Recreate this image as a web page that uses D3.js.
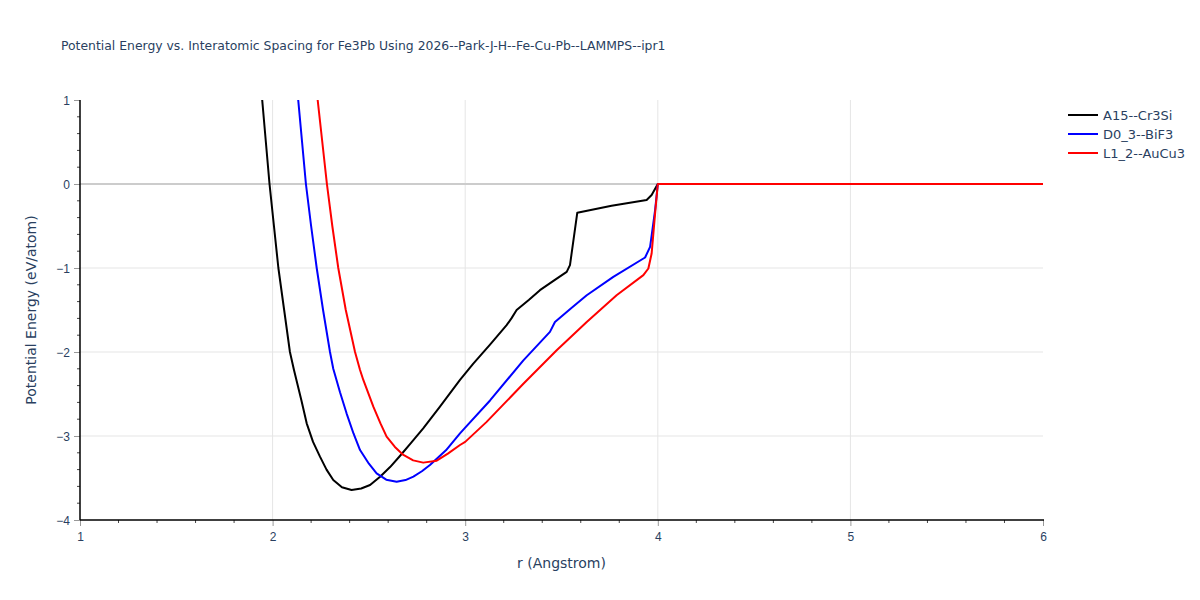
<!DOCTYPE html>
<html>
<head>
    <meta charset="utf-8">
    <title>Potential Energy vs. Interatomic Spacing</title>
    <style>
        body { margin: 0; background: #fff; }
        svg { font-family: "DejaVu Sans", verdana, arial, sans-serif; }
        .tick text { fill: #2a3f5f; font-size: 12px; }
    </style>
</head>
<body>
    <div id="chart"></div>

    <script src="https://d3js.org/d3.v7.min.js"></script>
    <script>
        // r values (Angstrom) and energies (eV/atom)
        const a15R = [1.946, 1.965, 1.984, 2.007, 2.030, 2.060, 2.090, 2.111, 2.15, 2.177, 2.21, 2.246, 2.28, 2.315, 2.36, 2.41, 2.46, 2.506, 2.558, 2.61, 2.661, 2.72, 2.782, 2.869, 2.973, 3.042, 3.13, 3.215, 3.24, 3.267, 3.33, 3.388, 3.46, 3.527, 3.544, 3.582, 3.76, 3.942, 3.968, 4.0, 6.0];
        const a15E = [1.0, 0.5, 0.0, -0.5, -1.0, -1.5, -2.0, -2.214, -2.58, -2.849, -3.07, -3.246, -3.40, -3.524, -3.61, -3.643, -3.625, -3.583, -3.484, -3.37, -3.238, -3.08, -2.909, -2.65, -2.333, -2.139, -1.91, -1.68, -1.60, -1.50, -1.38, -1.264, -1.15, -1.046, -0.966, -0.342, -0.26, -0.191, -0.131, 0.0, 0.0];

        const d03R = [2.133, 2.153, 2.173, 2.20, 2.229, 2.262, 2.298, 2.315, 2.35, 2.384, 2.42, 2.454, 2.50, 2.54, 2.59, 2.644, 2.69, 2.731, 2.775, 2.817, 2.90, 2.973, 3.0, 3.129, 3.302, 3.44, 3.466, 3.55, 3.631, 3.769, 3.934, 3.96, 3.986, 4.0, 6.0];
        const d03E = [1.0, 0.5, 0.0, -0.5, -1.0, -1.5, -2.0, -2.2, -2.48, -2.73, -2.97, -3.167, -3.33, -3.444, -3.52, -3.544, -3.525, -3.484, -3.42, -3.345, -3.17, -2.968, -2.90, -2.577, -2.099, -1.761, -1.642, -1.48, -1.324, -1.105, -0.875, -0.748, -0.31, 0.0, 0.0];

        const l12R = [2.234, 2.258, 2.282, 2.31, 2.341, 2.38, 2.428, 2.454, 2.471, 2.523, 2.56, 2.592, 2.635, 2.679, 2.73, 2.782, 2.852, 2.91, 2.973, 3.0, 3.11, 3.302, 3.475, 3.631, 3.786, 3.925, 3.951, 3.968, 3.986, 4.0, 6.0];
        const l12E = [1.0, 0.5, 0.0, -0.5, -1.0, -1.5, -2.0, -2.214, -2.333, -2.651, -2.85, -3.008, -3.13, -3.226, -3.29, -3.317, -3.294, -3.21, -3.107, -3.07, -2.835, -2.378, -1.98, -1.642, -1.324, -1.085, -1.006, -0.827, -0.35, 0.0, 0.0];

        const seriesNames = ["A15--Cr3Si", "D0_3--BiF3", "L1_2--AuCu3"];
        const seriesColors = ["#000000", "#0000ff", "#ff0000"];
        const xTicks = [1, 2, 3, 4, 5, 6];
        const yTicks = [-4, -3, -2, -1, 0, 1];

        const width = 1200, height = 600;
        const margin = { left: 80, right: 157, top: 100, bottom: 80 };

        const svg = d3.select('#chart').append('svg')
            .attr('width', width)
            .attr('height', height);

        const x = d3.scaleLinear().domain([1, 6]).range([margin.left, width - margin.right]);
        const y = d3.scaleLinear().domain([-4, 1]).range([height - margin.bottom, margin.top]);

        // 網格線
        svg.append('g').selectAll('line')
            .data(xTicks.slice(1, -1))
            .enter().append('line')
            .attr('x1', d => x(d)).attr('x2', d => x(d))
            .attr('y1', y(1)).attr('y2', y(-4))
            .style('stroke', '#e5e5e5').style('stroke-width', 1);

        svg.append('g').selectAll('line')
            .data(yTicks.slice(1, -1))
            .enter().append('line')
            .attr('x1', x(1)).attr('x2', x(6))
            .attr('y1', d => y(d)).attr('y2', d => y(d))
            .style('stroke', d => d === 0 ? '#cccccc' : '#e5e5e5')
            .style('stroke-width', d => d === 0 ? 2 : 1);

        // minor ticks
        const xMinor = d3.range(1, 6.001, 0.2).filter(v => Math.abs(v - Math.round(v)) > 1e-6);
        const yMinor = d3.range(-4, 1.001, 0.2).filter(v => Math.abs(v - Math.round(v)) > 1e-6);

        svg.append('g').selectAll('line')
            .data(xMinor).enter().append('line')
            .attr('x1', d => x(d)).attr('x2', d => x(d))
            .attr('y1', y(-4)).attr('y2', y(-4) + 3)
            .style('stroke', '#444').style('stroke-width', 1);

        svg.append('g').selectAll('line')
            .data(yMinor).enter().append('line')
            .attr('x1', x(1) - 3).attr('x2', x(1))
            .attr('y1', d => y(d)).attr('y2', d => y(d))
            .style('stroke', '#444').style('stroke-width', 1);

        // 軸
        const xAxis = svg.append('g')
            .attr('transform', `translate(0,${y(-4)})`)
            .call(d3.axisBottom(x).tickValues(xTicks).tickFormat(d3.format('d')).tickSize(6).tickPadding(6));
        xAxis.select('.domain').remove();
        xAxis.selectAll('.tick line').style('stroke', '#999');

        const yAxis = svg.append('g')
            .attr('transform', `translate(${x(1)},0)`)
            .call(d3.axisLeft(y).tickValues(yTicks).tickFormat(d => d < 0 ? '\u2212' + Math.abs(d) : d).tickSize(6).tickPadding(4));
        yAxis.select('.domain').remove();
        yAxis.selectAll('.tick line').style('stroke', '#999');
        yAxis.selectAll('.tick text').attr('dy', '0.35em');

        // 線條
        svg.append('defs').append('clipPath').attr('id', 'plotclip')
            .append('rect')
            .attr('x', x(1)).attr('y', y(1))
            .attr('width', x(6) - x(1)).attr('height', y(-4) - y(1));

        const lineGen = d3.line().x(d => x(d[0])).y(d => y(d[1]));
        const series = [
            d3.zip(a15R, a15E),
            d3.zip(d03R, d03E),
            d3.zip(l12R, l12E)
        ];

        svg.append('g').attr('clip-path', 'url(#plotclip)')
            .selectAll('path')
            .data(series).enter().append('path')
            .attr('d', lineGen)
            .style('fill', 'none')
            .style('stroke', (d, i) => seriesColors[i])
            .style('stroke-width', 2)
            .style('stroke-linejoin', 'round');

        // axis lines
        svg.append('line')
            .attr('x1', x(1)).attr('x2', x(6) + 1)
            .attr('y1', y(-4)).attr('y2', y(-4))
            .style('stroke', '#000').style('stroke-width', 1.5);
        svg.append('line')
            .attr('x1', x(1)).attr('x2', x(1))
            .attr('y1', y(1)).attr('y2', y(-4))
            .style('stroke', '#000').style('stroke-width', 1.5);

        // 標題
        svg.append('text')
            .attr('x', 61).attr('y', 50)
            .text('Potential Energy vs. Interatomic Spacing for Fe3Pb Using 2026--Park-J-H--Fe-Cu-Pb--LAMMPS--ipr1')
            .style('font-size', '12.4px').style('fill', '#2a3f5f');

        svg.append('text')
            .attr('x', (x(1) + x(6)) / 2).attr('y', 568)
            .attr('text-anchor', 'middle')
            .text('r (Angstrom)')
            .style('font-size', '14px').style('fill', '#2a3f5f');

        svg.append('text')
            .attr('transform', `translate(36,${(y(1) + y(-4)) / 2}) rotate(-90)`)
            .attr('text-anchor', 'middle')
            .text('Potential Energy (eV/atom)')
            .style('font-size', '14px').style('fill', '#2a3f5f');

        // 圖例
        const legend = svg.append('g').attr('transform', 'translate(1068,115)');
        seriesNames.forEach((name, i) => {
            const item = legend.append('g').attr('transform', `translate(0,${i * 19})`);
            item.append('line')
                .attr('x1', 0).attr('x2', 30)
                .style('stroke', seriesColors[i]).style('stroke-width', 2);
            item.append('text')
                .attr('x', 35).attr('y', 0).attr('dy', '0.35em')
                .text(name)
                .style('font-size', '13px').style('fill', '#2a3f5f');
        });
    </script>
</body>
</html>
